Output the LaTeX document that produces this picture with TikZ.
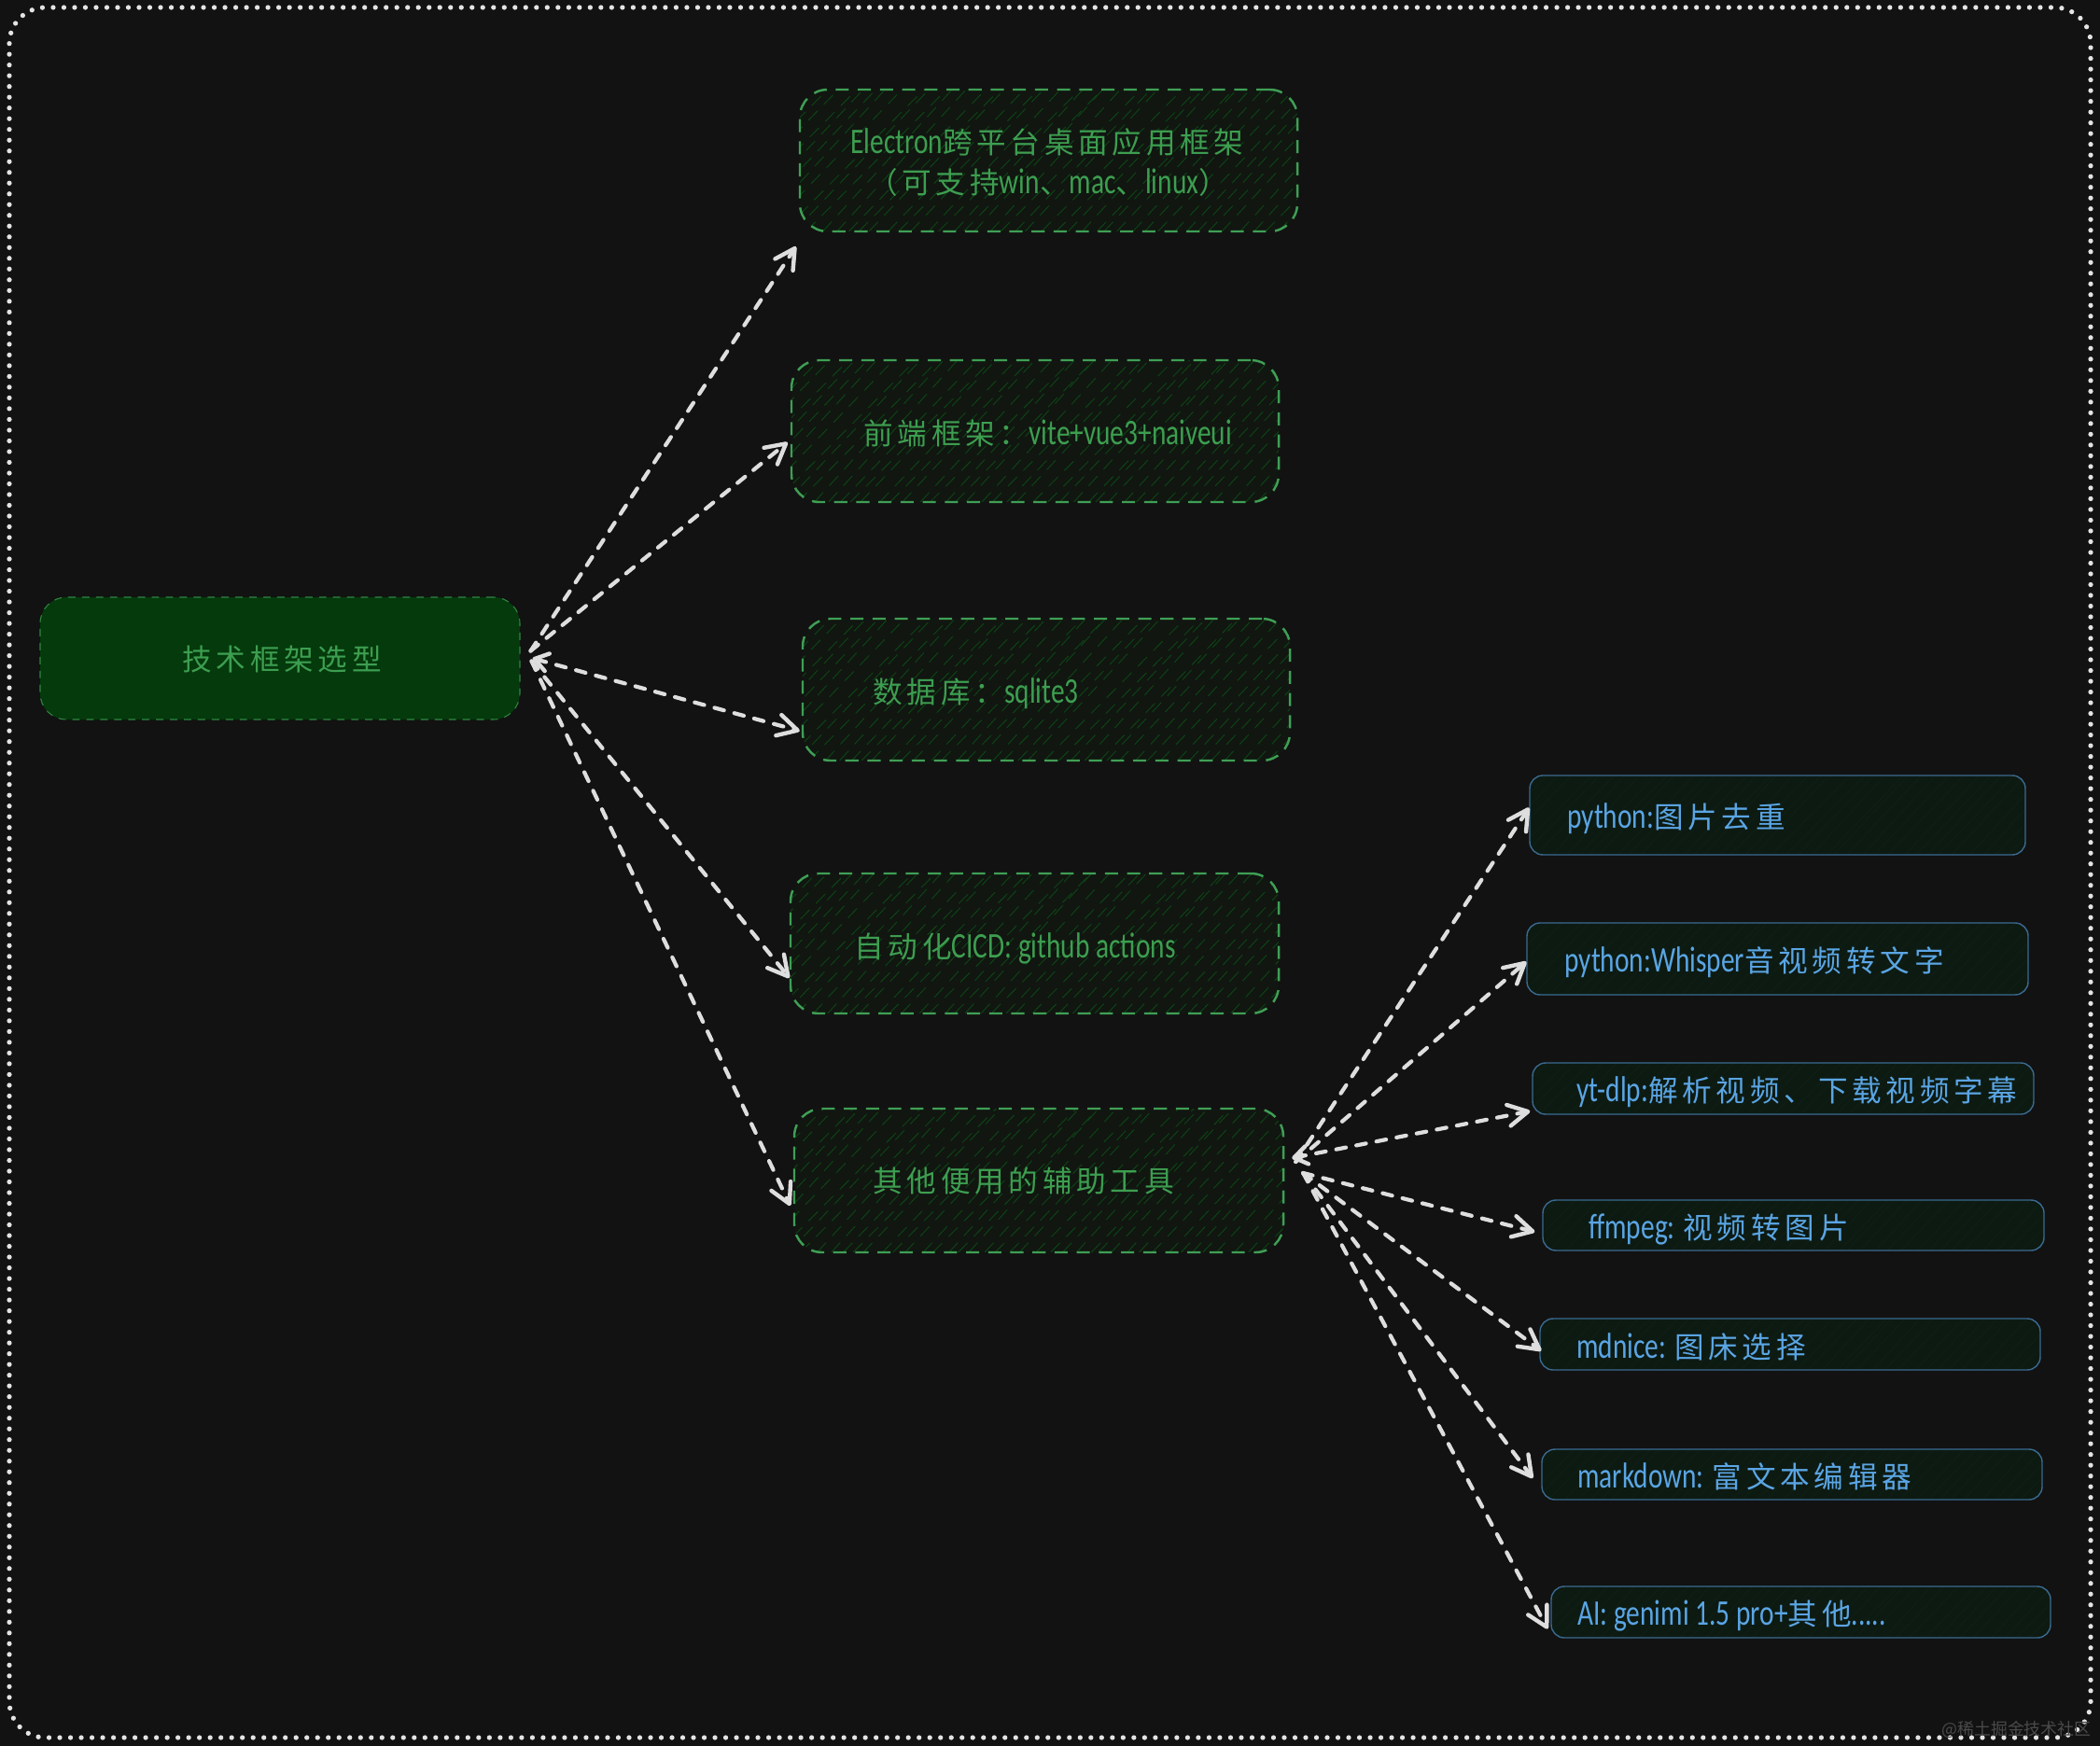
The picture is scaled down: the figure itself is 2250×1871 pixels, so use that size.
\documentclass[tikz,border=0pt]{standalone}
\usepackage{fontspec}
\usetikzlibrary{arrows.meta,calc}
\setmainfont{Noto Sans CJK SC}
\newfontfamily\cjk[LetterSpace=15]{Noto Sans CJK SC}
\newfontfamily\lat[FakeStretch=0.76]{Carlito}
\newfontfamily\wm{Noto Sans CJK SC}
\definecolor{bgc}{HTML}{121212}
\definecolor{frameC}{HTML}{E4E4E4}
\definecolor{greenT}{HTML}{3D9E50}
\definecolor{greenB}{HTML}{3F9F55}
\definecolor{mainF}{HTML}{043A0C}
\definecolor{hatchG}{HTML}{0E4415}
\definecolor{boxG}{HTML}{111611}
\definecolor{blueT}{HTML}{5AA5E4}
\definecolor{blueB}{HTML}{3A6A90}
\definecolor{blueF}{HTML}{0D1A12}
\definecolor{hatchB}{HTML}{0F1F15}
\definecolor{arrowC}{HTML}{DEDEDE}
\definecolor{wmC}{HTML}{4A4A4A}
\newcommand{\gt}[1]{{\cjk #1}}
\newcommand{\lt}[1]{{\lat\fontsize{22}{22}\selectfont #1}}
\tikzset{
  x=0.02cm,y=-0.02cm,
  txtbase/.style={inner sep=0,anchor=west,font=\fontsize{18}{22}\selectfont},
  greentext/.style={txtbase,text=greenT},
  bluetext/.style={txtbase,text=blueT},
  hatchlines/.style={path picture={
    \pgfmathsetseed{7}
    \foreach \i in {-300,-286,...,700}{
      \pgfmathsetmacro{\jit}{\i+rand*5}
      \pgfmathsetmacro{\rise}{285+rand*14}
      \draw[#1,line width=0.55pt] ($(path picture bounding box.south west)+(\jit,0)$) -- ++(\rise,-300);
    }}},
  mainbox/.style={rectangle,rounded corners=16pt,fill=mainF,draw=greenB!75!mainF,line width=0.6pt,dash pattern=on 4.5pt off 4pt},
  greenbox/.style={rectangle,rounded corners=17pt,fill=boxG,hatchlines=hatchG,draw=greenB,line width=1.4pt,dash pattern=on 8pt off 5.5pt},
  bluebox/.style={rectangle,rounded corners=8pt,fill=blueF,hatchlines=hatchB,draw=blueB,line width=0.8pt},
  flow/.style={draw=arrowC,line width=2.4pt,line cap=round,dash pattern=on 6pt off 6.5pt,-{Straight Barb[length=12pt,width=13pt,line width=2.5pt,round]}},
  flowboth/.style={flow,{Straight Barb[length=8pt,width=11pt,line width=2.5pt,round]}-{Straight Barb[length=12pt,width=13pt,line width=2.5pt,round]}},
  frameline/.style={draw=frameC,line width=3pt,line cap=round,dash pattern=on 0pt off 6.55pt,rounded corners=22pt},
}
\newcommand{\boxnode}[6]{\node[#6,inner sep=0,minimum width={(#4-#2)*0.02cm},minimum height={(#5-#3)*0.02cm}] (#1) at ({(#2+#4)/2},{(#3+#5)/2}) {};}
\begin{document}
\begin{tikzpicture}
\useasboundingbox (0,0) rectangle (2250,1871);
\fill[bgc] (0,0) rectangle (2250,1871);
\draw[frameline] (10,8) rectangle (2240,1862);
\boxnode{main}{43}{640}{557}{771}{mainbox}
\boxnode{bA}{857}{96}{1390}{248}{greenbox}
\boxnode{bB}{848}{386}{1370}{538}{greenbox}
\boxnode{bC}{860}{663}{1382}{815}{greenbox}
\boxnode{bD}{847}{936}{1370}{1086}{greenbox}
\boxnode{bE}{851}{1188}{1375}{1342}{greenbox}
\boxnode{pA}{1639}{831}{2170}{916}{bluebox}
\boxnode{pB}{1636}{989}{2173}{1066}{bluebox}
\boxnode{pC}{1642}{1139}{2179}{1194}{bluebox}
\boxnode{pD}{1653}{1286}{2190}{1340}{bluebox}
\boxnode{pE}{1650}{1413}{2186}{1468}{bluebox}
\boxnode{pF}{1652}{1553}{2188}{1607}{bluebox}
\boxnode{pG}{1662}{1700}{2197}{1755}{bluebox}

\node[greentext] (tMain) at (195,706) {\gt{技术框架选型}};
\node[greentext] (tA1) at (911,152) {\lt{Electron}\gt{跨平台桌面应用框架}};
\node[greentext,anchor=center] (tA2) at (1123,195) {\gt{（可支持}\lt{win}\gt{、}\lt{mac}\gt{、}\lt{linux}\gt{）}};
\node[greentext] (tB) at (925,464) {\gt{前端框架：}\lt{vite+vue3+naiveui}};
\node[greentext] (tC) at (935,743) {\gt{数据库：}\lt{sqlite3}};
\node[greentext] (tD) at (915,1016) {\gt{自动化}\lt{CICD: github actions}};
\node[greentext] (tE) at (935,1265) {\gt{其他便用的辅助工具}};
\node[bluetext] (tpA) at (1679,877) {\lt{python:}\gt{图片去重}};
\node[bluetext] (tpB) at (1676,1031) {\lt{python:Whisper}\gt{音视频转文字}};
\node[bluetext] (tpC) at (1689,1170) {\lt{yt-dlp:}\gt{解析视频、下载视频字幕}};
\node[bluetext] (tpD) at (1702,1317) {\lt{ffmpeg: }\gt{视频转图片}};
\node[bluetext] (tpE) at (1689,1443) {\lt{mdnice: }\gt{图床选择}};
\node[bluetext] (tpF) at (1690,1582) {\lt{markdown: }\gt{富文本编辑器}};
\node[bluetext] (tpG) at (1690,1732) {\lt{AI: genimi 1.5 pro+}\gt{其他}\lt{.....}};
\node[anchor=east,inner sep=0,text=wmC,font=\wm\fontsize{10.2}{12}\selectfont] (wmk) at (2241,1853) {@稀土掘金技术社区};

\draw[flow] ($(main.east)+(11,-8)$) -- ($(bA.south west)+(-3,15)$);
\draw[flow] ($(main.east)+(11,-8)$) -- ($(bB.west)+(-3,12)$);
\draw[flowboth] ($(main.east)+(13,0)$) -- ($(bC.south west)+(-2,-33)$);
\draw[flow] ($(main.east)+(12,3)$) -- ($(bD.west)+(0,37)$);
\draw[flow] ($(main.east)+(12,3)$) -- ($(bE.west)+(-3,27)$);

\draw[flow] ($(bE.east)+(12,-20)$) -- ($(pA.west)+(0,-8)$);
\draw[flow] ($(bE.east)+(12,-20)$) -- ($(pB.west)+(0,3)$);
\draw[flowboth] ($(bE.east)+(8,-24)$) -- ($(pC.south west)+(-2,-4)$);
\draw[flow] ($(bE.east)+(20,-8)$) -- ($(pD.west)+(-8,7)$);
\draw[flow] ($(bE.east)+(20,-8)$) -- ($(pE.west)+(2,7)$);
\draw[flow] ($(bE.east)+(20,-8)$) -- ($(pF.west)+(-9,4)$);
\draw[flow] ($(bE.east)+(20,-8)$) -- ($(pG.west)+(-3,18)$);
\end{tikzpicture}
\end{document}
